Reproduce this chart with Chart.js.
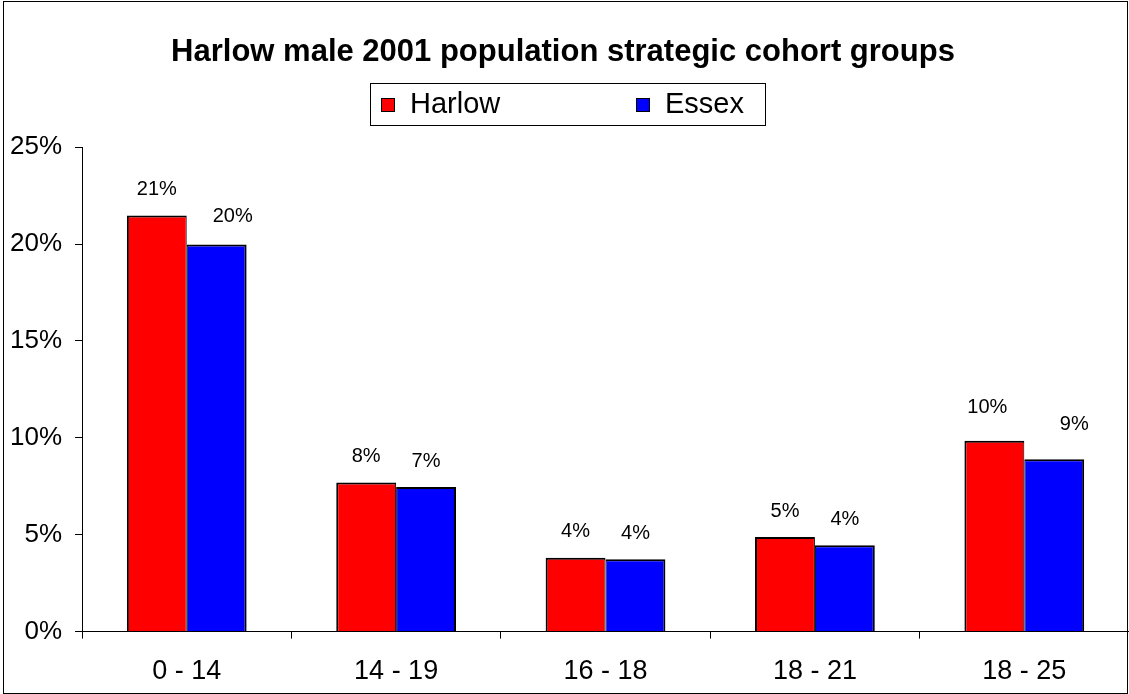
<!DOCTYPE html>
<html>
<head>
<meta charset="utf-8">
<title>Harlow male 2001 population strategic cohort groups</title>
<script src="https://cdn.jsdelivr.net/npm/chart.js@4.4.1/dist/chart.umd.min.js"></script>
<style>
  html, body { margin: 0; padding: 0; background: #ffffff; }
  #wrap { width: 1129px; height: 694px; position: relative; }
</style>
</head>
<body>
<div id="wrap"><canvas id="chart" width="1129" height="694"></canvas></div>
<script>
// Age bands (cohort groups)
const categories = ['0 - 14', '14 - 19', '16 - 18', '18 - 21', '18 - 25'];
// Share of the male population in each band, in percent
const harlowValues = [21.48, 7.70, 3.81, 4.88, 9.85];
const essexValues  = [19.98, 7.46, 3.73, 4.46, 8.90];
// Value axis
const yMin = 0;
const yMax = 25;
const yStep = 5;

const FONT = '"Liberation Sans", Arial, Helvetica, sans-serif';

// Value labels above each bar, rounded to whole percent
const valueLabels = {
  id: 'valueLabels',
  afterDatasetsDraw(chart, args, opts) {
    const ctx = chart.ctx;
    ctx.save();
    ctx.font = '20px ' + FONT;
    ctx.fillStyle = '#000';
    ctx.textAlign = 'center';
    ctx.textBaseline = 'middle';
    chart.data.datasets.forEach((ds, di) => {
      const meta = chart.getDatasetMeta(di);
      meta.data.forEach((bar, i) => {
        const nudge = (opts.nudge[di] && opts.nudge[di][i]) || [0, 0];
        const text = Math.round(ds.data[i]) + '%';
        ctx.fillText(text, bar.x + nudge[0], bar.y - opts.gap + nudge[1]);
      });
    });
    ctx.restore();
  }
};

// Boxed legend under the title
const boxedLegend = {
  id: 'boxedLegend',
  afterDraw(chart, args, opts) {
    const ctx = chart.ctx;
    const left = Math.round(chart.width / 2 - opts.width / 2) + opts.shift;
    const top = opts.top;
    ctx.save();
    ctx.fillStyle = '#fff';
    ctx.fillRect(left, top, opts.width, opts.height);
    ctx.strokeStyle = '#000';
    ctx.lineWidth = 1;
    ctx.strokeRect(left + 0.5, top + 0.5, opts.width, opts.height);
    ctx.font = opts.fontSize + 'px ' + FONT;
    ctx.textBaseline = 'middle';
    ctx.textAlign = 'left';
    const cy = top + opts.height / 2 + 1;
    chart.data.datasets.forEach((ds, di) => {
      const x = left + opts.itemX[di];
      const s = opts.box;
      ctx.fillStyle = ds.backgroundColor;
      ctx.fillRect(x, cy - s / 2, s, s);
      ctx.strokeStyle = '#000';
      ctx.strokeRect(x + 0.5, cy - s / 2 + 0.5, s - 1, s - 1);
      ctx.fillStyle = '#000';
      ctx.fillText(ds.label, x + s + 15, cy);
    });
    ctx.restore();
  }
};

// Outer frame of the chart
const frame = {
  id: 'frame',
  afterDraw(chart) {
    const ctx = chart.ctx;
    ctx.save();
    ctx.strokeStyle = '#000';
    ctx.lineWidth = 1;
    ctx.strokeRect(3.5, 1.5, chart.width - 5, chart.height - 2);
    ctx.restore();
  }
};

new Chart(document.getElementById('chart'), {
  type: 'bar',
  data: {
    labels: categories,
    datasets: [
      {
        label: 'Harlow',
        data: harlowValues,
        backgroundColor: '#ff0000',
        borderColor: '#000000',
        borderWidth: { top: 2, left: 2, right: 1, bottom: 0 },
        borderSkipped: false
      },
      {
        label: 'Essex',
        data: essexValues,
        backgroundColor: '#0000ff',
        borderColor: '#000000',
        borderWidth: { top: 2, left: 1, right: 2, bottom: 0 },
        borderSkipped: false
      }
    ]
  },
  options: {
    responsive: false,
    animation: false,
    devicePixelRatio: 1,
    categoryPercentage: 0.572,
    barPercentage: 1.0,
    layout: { padding: { left: -3, right: 0, top: 0, bottom: -11 } },
    plugins: {
      legend: { display: false },
      tooltip: { enabled: false },
      title: {
        display: true,
        text: 'Harlow male 2001 population strategic cohort groups',
        color: '#000',
        font: { family: FONT, size: 31, weight: 'bold', lineHeight: 1.2 },
        padding: { top: 34, bottom: 76 }
      },
      valueLabels: {
        gap: 26,
        nudge: [
          [[0, 0], [0, 0], [0, 0], [0, 0], [-7, -7]],
          [[16, -2], [0, 0], [0, 0], [0, 0], [20, -9]]
        ]
      },
      boxedLegend: {
        top: 83, width: 395, height: 42, shift: 3,
        box: 14, fontSize: 29, itemX: [11, 266]
      }
    },
    scales: {
      x: {
        grid: {
          display: true,
          offset: true,
          drawOnChartArea: false,
          drawTicks: true,
          tickLength: 7,
          color: '#000'
        },
        border: { display: true, color: '#000', width: 1 },
        ticks: {
          color: '#000',
          padding: 17,
          maxRotation: 0,
          font: { family: FONT, size: 27 }
        }
      },
      y: {
        min: yMin,
        max: yMax,
        grid: {
          display: true,
          drawOnChartArea: false,
          drawTicks: true,
          tickLength: 7,
          color: '#000'
        },
        border: { display: true, color: '#000', width: 1 },
        ticks: {
          stepSize: yStep,
          color: '#000',
          padding: 13,
          font: { family: FONT, size: 26 },
          callback: (v) => v + '%'
        }
      }
    }
  },
  plugins: [valueLabels, boxedLegend, frame]
});
</script>
</body>
</html>
